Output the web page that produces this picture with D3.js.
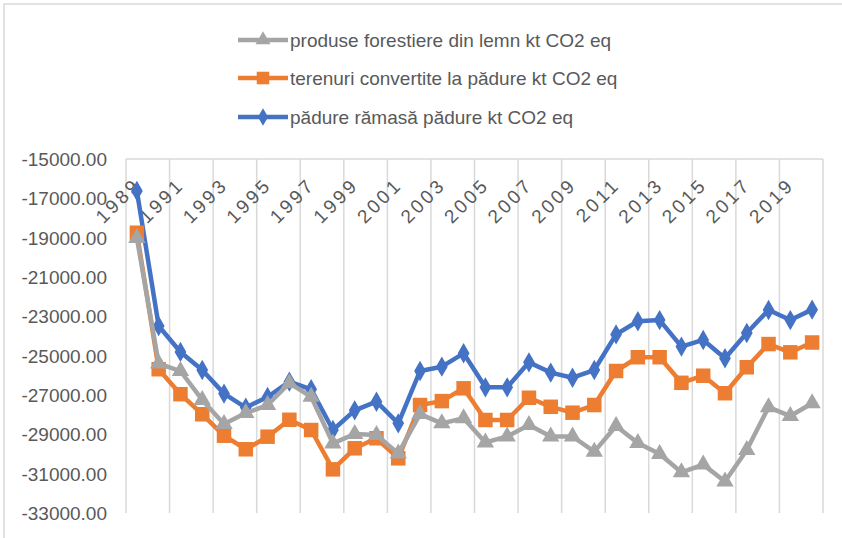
<!DOCTYPE html>
<html>
<head>
<meta charset="utf-8">
<script src="https://cdn.jsdelivr.net/npm/d3@7"></script>
<style>
  body { margin: 0; background: #fff; }
  svg text { font-family: "Liberation Sans", Arial, sans-serif; fill: #595959; }
</style>
</head>
<body>
<div id="chart"></div>
<script>
const years = d3.range(1989, 2021).map(String);
const tickYears = years.filter((d, i) => i % 2 === 0);
const yTicks = [-15000, -17000, -19000, -21000, -23000, -25000, -27000, -29000, -31000, -33000];

const produse = [-19020, -25400, -25780, -27250, -28480, -27920, -27510, -26400, -27090, -29460,
    -28980, -29040, -29970, -27970, -28440, -28180, -29410, -29110, -28530, -29110,
    -29110, -29880, -28580, -29440, -30000, -30930, -30540, -31400, -29800, -27620,
    -28070, -27420];
const terenuri = [-18750, -25690, -26960, -27980, -29070, -29760, -29120, -28260, -28780, -30780,
    -29710, -29200, -30220, -27510, -27310, -26660, -28270, -28270, -27140, -27600,
    -27900, -27510, -25780, -25080, -25080, -26380, -26020, -26910, -25590, -24410,
    -24830, -24330];
const padure = [-16630, -23490, -24810, -25730, -26930, -27640, -27100, -26320, -26710, -28780,
    -27780, -27340, -28440, -25780, -25560, -24880, -26610, -26610, -25340, -25860,
    -26120, -25730, -23920, -23250, -23190, -24540, -24200, -25130, -23850, -22680,
    -23190, -22660];

const seriesNames = ['produse forestiere din lemn kt CO2 eq',
    'terenuri convertite la pădure kt CO2 eq',
    'pădure rămasă pădure kt CO2 eq'];

const width = 842, height = 538;
const margin = {top: 159, right: 19, bottom: 25, left: 126};

var svg = d3.select('#chart').append('svg')
    .attr('width', width)
    .attr('height', height);

// chart area border (only top/left visible in the picture)
svg.append('rect')
    .attr('x', 4).attr('y', 4)
    .attr('width', 900).attr('height', 600)
    .attr('fill', 'none')
    .attr('stroke', '#d9d9d9')
    .attr('stroke-width', 1.5);

var x = d3.scaleBand()
    .domain(years)
    .range([margin.left, width - margin.right]);

var y = d3.scaleLinear()
    .domain([-15000, -33000])
    .range([margin.top, height - margin.bottom]);

// vertical gridlines every second category
var gridX = d3.range(0, years.length + 1, 2).map(i => margin.left + i * x.step());
svg.append('g').selectAll('line')
    .data(gridX)
    .join('line')
    .attr('x1', d => d).attr('x2', d => d)
    .attr('y1', margin.top).attr('y2', height - margin.bottom)
    .attr('stroke', '#d9d9d9')
    .attr('stroke-width', 1.5);

// horizontal axis line at the top (-15000)
svg.append('line')
    .attr('x1', margin.left).attr('x2', width - margin.right)
    .attr('y1', y(-15000)).attr('y2', y(-15000))
    .attr('stroke', '#d9d9d9')
    .attr('stroke-width', 1.5);

// y axis labels
var yAxis = svg.append('g')
    .attr('transform', `translate(${margin.left - 19},0)`)
    .call(d3.axisLeft(y).tickValues(yTicks).tickSize(0).tickPadding(0).tickFormat(d3.format('.2f')));
yAxis.select('.domain').remove();
yAxis.selectAll('text')
    .attr('font-size', 19)
    .attr('font-family', '"Liberation Sans", Arial, sans-serif')
    .attr('fill', '#595959')
    .attr('dy', '0.35em')
    .text(d => d3.format('.2f')(d).replace('−', '-'));

// x labels, rotated
svg.append('g').selectAll('text')
    .data(tickYears)
    .join('text')
    .attr('transform', d => `translate(${x(d) + x.bandwidth() / 2 + 5},186) rotate(-45)`)
    .attr('text-anchor', 'end')
    .attr('font-size', 19)
    .attr('letter-spacing', 3)
    .text(d => d);

const colors = ['#a5a5a5', '#ed7d31', '#4472c4'];
const values = [produse, terenuri, padure];
const shapes = [d3.symbolTriangle, d3.symbolSquare, d3.symbolDiamond];
const sizes = [130, 210, 120];

var line = d3.line()
    .x((d, i) => x(years[i]) + x.bandwidth() / 2)
    .y(d => y(d));

// draw blue first, grey last (grey markers sit on top)
[2, 1, 0].forEach(function (s) {
    var g = svg.append('g');
    g.append('path')
        .datum(values[s])
        .attr('fill', 'none')
        .attr('stroke', colors[s])
        .attr('stroke-width', 4.5)
        .attr('stroke-linejoin', 'round')
        .attr('d', line);
    g.selectAll('path.m')
        .data(values[s])
        .join('path')
        .attr('class', 'm')
        .attr('transform', (d, i) => `translate(${x(years[i]) + x.bandwidth() / 2},${y(d)})`)
        .attr('d', d3.symbol().type(shapes[s]).size(sizes[s]))
        .attr('fill', colors[s]);
});

// legend
var legend = svg.append('g');
var rowY = [40, 78, 117];
seriesNames.forEach(function (name, s) {
    var r = legend.append('g').attr('transform', `translate(238,${rowY[s]})`);
    r.append('line')
        .attr('x1', 0).attr('x2', 50)
        .attr('stroke', colors[s])
        .attr('stroke-width', 4.5);
    r.append('path')
        .attr('transform', 'translate(25,0)')
        .attr('d', d3.symbol().type(shapes[s]).size(sizes[s] * 0.75))
        .attr('fill', colors[s]);
    r.append('text')
        .attr('x', 52)
        .attr('dy', '0.35em')
        .attr('font-size', 19)
        .text(name);
});
</script>
</body>
</html>
